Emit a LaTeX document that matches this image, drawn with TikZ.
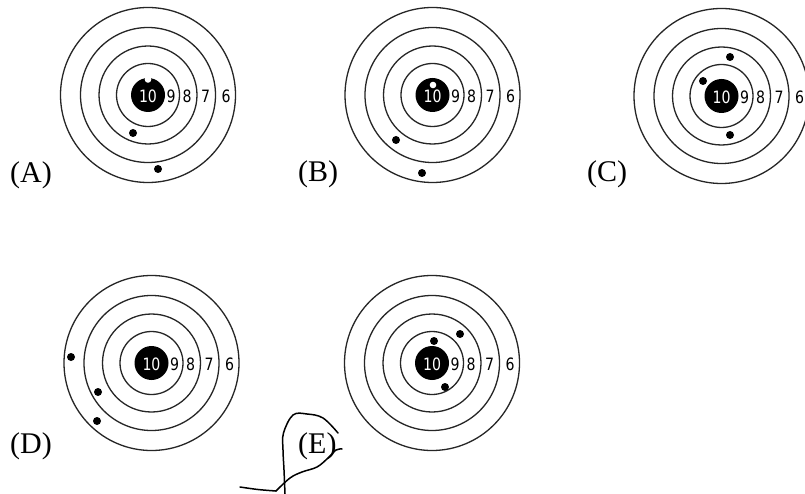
\documentclass[tikz,border=0pt]{standalone}
\usepackage{fontspec}
\setmainfont{Liberation Serif}
\newfontfamily\numfont{DejaVu Sans}
\begin{document}
\begin{tikzpicture}[x=1pt,y=-1pt,
  ring/.style={draw=black!85,line width=1.3pt},
  num/.style={font=\numfont\fontsize{17}{17}\selectfont,inner sep=0pt,xscale=0.83},
  lbl/.style={font=\fontsize{30}{30}\selectfont,inner sep=0pt,anchor=base west},
  hit/.style={fill=black},
  scribble/.style={draw=black,line width=1.5pt,line cap=round,line join=round}]
\useasboundingbox (0,0) rectangle (805,494);
\fill[white] (0,0) rectangle (805,494);
\newcommand{\drawtgt}[3]{%
  \begin{scope}[shift={(#2,#3)}]
    \foreach \r in {31.5,49,67.5,87.5} \draw[ring] (0,0) circle[radius=\r];
    \fill[black] (0,0) circle[radius=17];
    \node[num,text=white] (#1-10) at (0,1) {10};
    \node[num] (#1-9) at (23,1) {9};
    \node[num] (#1-8) at (39,1) {8};
    \node[num] (#1-7) at (57.5,1) {7};
    \node[num] (#1-6) at (78,1) {6};
  \end{scope}}
% targets
\drawtgt{A}{148}{95}
\drawtgt{B}{432.5}{95}
\drawtgt{C}{721.5}{96}
\drawtgt{D}{151.5}{363}
\drawtgt{E}{432}{363}
% notches
\fill[white] (148,79.5) circle[radius=3.3];
\fill[white] (433,85) circle[radius=3.3];
% hits
\foreach \p in {(133,133),(158,169),(396,140),(422,173),(730,57),(703,81),(730,135),(71,357),(98,392),(97,421),(434,341),(460,334),(445,387)}
  \fill[hit] \p circle[radius=4];
% labels
\node[lbl] (lA) at (10,182.5) {(A)};
\node[lbl] (lB) at (298,182) {(B)};
\node[lbl] (lC) at (587,182) {(C)};
\node[lbl] (lD) at (10,453) {(D)};
\node[lbl] (lE) at (298,453.5) {(E)};
% scribble
\draw[scribble] plot[smooth,tension=0.6] coordinates {(240,487) (258,489.5) (276,491)};
\draw[scribble] plot[smooth,tension=0.6] coordinates {(276,491) (290,478) (302,472) (317,467) (328,458) (336,450) (342,449)};
\draw[scribble] plot[smooth,tension=0.6] coordinates {(285,494) (284,470) (283,450) (283.5,433) (293,415) (307,414) (323,418) (338,433)};
\end{tikzpicture}
\end{document}
